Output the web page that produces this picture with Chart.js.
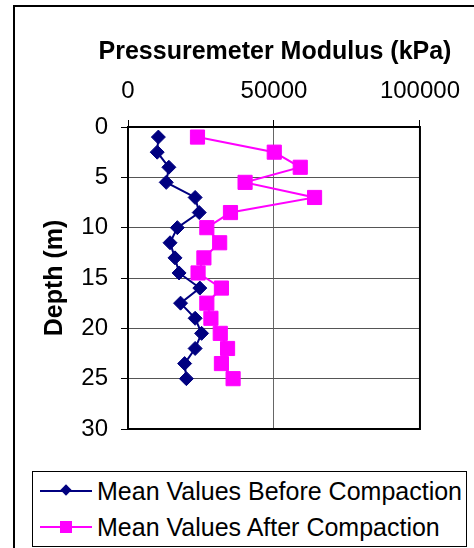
<!DOCTYPE html>
<html>
<head>
<meta charset="utf-8">
<script src="https://cdn.jsdelivr.net/npm/chart.js@4"></script>
<style>
    html, body {
        margin: 0;
        padding: 0;
        background: #fff;
        overflow: hidden;
    }
    .wrap {
        position: relative;
        width: 474px;
        height: 548px;
        overflow: hidden;
        font-family: "Liberation Sans", Arial, sans-serif;
    }
    .frame {
        position: absolute;
        left: 13px;
        top: 5px;
        width: 600px;
        height: 700px;
        border: 2px solid #000;
    }
    #chart {
        position: absolute;
        left: 0;
        top: 0;
    }
    .title {
        position: absolute;
        left: 0;
        top: 35px;
        width: 550px;
        text-align: center;
        font-size: 25px;
        font-weight: bold;
        line-height: 30px;
        color: #000;
        white-space: nowrap;
    }
    .legend {
        position: absolute;
        left: 32px;
        top: 471px;
        width: 433px;
        height: 74px;
        border: 1px solid #000;
        background: #fff;
        font-size: 25px;
        color: #000;
    }
    .legend__item {
        position: absolute;
        left: 0;
        height: 36px;
        line-height: 36px;
        white-space: nowrap;
    }
    .legend__line {
        position: absolute;
        left: 7px;
        top: 17px;
        width: 52px;
        height: 2px;
    }
    .legend__marker {
        position: absolute;
    }
    .legend__text {
        position: absolute;
        left: 64px;
        top: 0;
    }
</style>
</head>
<body>
<div class="wrap">
    <div class="frame"></div>
    <canvas id="chart" width="474" height="548"></canvas>
    <div class="title">Pressuremeter Modulus (kPa)</div>
    <div class="legend">
        <div class="legend__item" style="top: 1px;">
            <div class="legend__line" style="background: #000080;"></div>
            <div class="legend__marker" style="left: 29px; top: 13px; width: 8px; height: 8px; background: #000080; transform: rotate(45deg);"></div>
            <span class="legend__text">Mean Values Before Compaction</span>
        </div>
        <div class="legend__item" style="top: 37px;">
            <div class="legend__line" style="background: #ff00ff;"></div>
            <div class="legend__marker" style="left: 27px; top: 12px; width: 12px; height: 12px; background: #ff00ff;"></div>
            <span class="legend__text">Mean Values After Compaction</span>
        </div>
    </div>
</div>
<script>
// data
const depths = [1, 2.5, 4, 5.5, 7, 8.5, 10, 11.5, 13, 14.5, 16, 17.5, 19, 20.5, 22, 23.5, 25];
const beforeValues = [10400, 10000, 14000, 13100, 23000, 24400, 16900, 14400, 16100, 17500, 24600, 18000, 23000, 25200, 23000, 19400, 20000];
const afterValues = [23800, 50100, 59000, 40100, 63900, 35100, 27000, 31400, 26000, 24000, 32000, 27000, 28400, 31600, 34100, 32000, 36000];
const xTicks = [0, 50000, 100000];
const yTicks = [0, 5, 10, 15, 20, 25, 30];

const font = "'Liberation Sans', Arial, sans-serif";

const toPoints = (values) => values.map((v, i) => ({ x: v, y: depths[i] }));

// box around the plot area
const plotBorder = {
    id: "plotBorder",
    beforeDatasetsDraw(chart) {
        const { ctx, chartArea } = chart;
        ctx.save();
        ctx.strokeStyle = "#000";
        ctx.lineWidth = 2;
        ctx.strokeRect(chartArea.left, chartArea.top, chartArea.right - chartArea.left, chartArea.bottom - chartArea.top);
        ctx.restore();
    },
};

new Chart(document.getElementById("chart"), {
    type: "scatter",
    data: {
        datasets: [
            {
                label: "Mean Values Before Compaction",
                data: toPoints(beforeValues),
                showLine: true,
                borderColor: "#000080",
                backgroundColor: "#000080",
                borderWidth: 2,
                pointStyle: "rectRot",
                pointRadius: 7,
                pointBorderWidth: 1,
            },
            {
                label: "Mean Values After Compaction",
                data: toPoints(afterValues),
                showLine: true,
                borderColor: "#ff00ff",
                backgroundColor: "#ff00ff",
                borderWidth: 2,
                pointStyle: "rect",
                pointRadius: 10,
                pointBorderWidth: 1,
            },
        ],
    },
    options: {
        responsive: false,
        animation: false,
        devicePixelRatio: 1,
        layout: {
            padding: { top: 0, left: 0, right: 52, bottom: 119 },
        },
        plugins: {
            legend: { display: false },
            tooltip: { enabled: false },
        },
        scales: {
            x: {
                type: "linear",
                position: "top",
                min: 0,
                max: 100000,
                afterBuildTicks: (scale) => {
                    scale.ticks = xTicks.map((v) => ({ value: v }));
                },
                afterFit: (scale) => {
                    scale.height = 127;
                },
                ticks: {
                    padding: 14,
                    color: "#000",
                    font: { family: font, size: 24 },
                    maxRotation: 0,
                    callback: (v) => String(v),
                },
                grid: {
                    color: "#666",
                    tickColor: "#000",
                    tickLength: 7,
                    lineWidth: 1,
                },
                border: { display: false },
            },
            y: {
                type: "linear",
                reverse: true,
                min: 0,
                max: 30,
                afterBuildTicks: (scale) => {
                    scale.ticks = yTicks.map((v) => ({ value: v }));
                },
                afterFit: (scale) => {
                    scale.width = 128;
                },
                ticks: {
                    padding: 13,
                    color: "#000",
                    font: { family: font, size: 24 },
                },
                grid: {
                    color: "#555",
                    tickColor: "#000",
                    tickLength: 7,
                    lineWidth: 1,
                },
                border: { display: false },
                title: {
                    display: true,
                    text: "Depth (m)",
                    color: "#000",
                    font: { family: font, size: 25, weight: "bold" },
                    padding: { top: 40, bottom: 0 },
                },
            },
        },
    },
    plugins: [plotBorder],
});
</script>
</body>
</html>
